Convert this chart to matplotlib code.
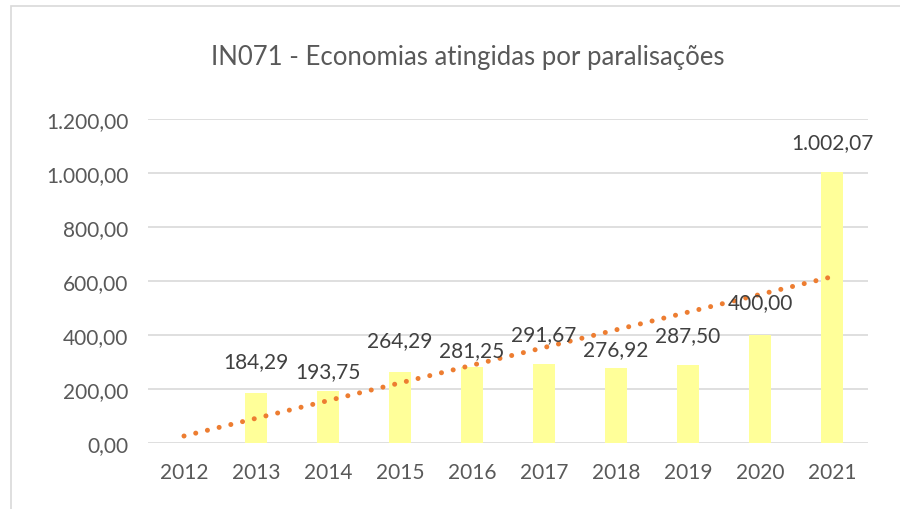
import numpy as np
import matplotlib
matplotlib.use('Agg')
import matplotlib.pyplot as plt
from matplotlib.patches import Rectangle

# dados do gráfico
anos = ['2012', '2013', '2014', '2015', '2016', '2017', '2018', '2019', '2020', '2021']
valores = [np.nan, 184.29, 193.75, 264.29, 281.25, 291.67, 276.92, 287.50, 400.00, 1002.07]
yticks = [0, 200, 400, 600, 800, 1000, 1200]
titulo = 'IN071 - Economias atingidas por paralisações'

# deslocamento vertical dos rótulos (pontos), como no Excel
label_dy = [0, 23, 14, 23, 12, 22, 14, 22, 24, 22]


def fmt_br(v):
    s = f'{v:,.2f}'
    return s.replace(',', 'X').replace('.', ',').replace('X', '.')


plt.rcParams['font.family'] = ['Lato', 'DejaVu Sans']

fig = plt.figure(figsize=(9, 5.1), dpi=100)
fig.patches.append(Rectangle((11 / 900, -0.1), 1.2, 1.1 - 7 / 510, transform=fig.transFigure,
                             fill=False, edgecolor='#D9D9D9', linewidth=1.2))
ax = fig.add_axes([148 / 900, 1 - 444 / 510, 720 / 900, 324 / 510])

x = np.arange(len(anos))
y = np.array(valores, dtype=float)
ax.bar(x, np.nan_to_num(y), width=0.31, color='#FFFF99', zorder=2)

# linha de tendência linear
ok = ~np.isnan(y)
a, b = np.polyfit(x[ok], y[ok], 1)
ax.plot(x, a * x + b, color='#ED7D31', linewidth=3.6, linestyle=(0, (0.01, 2.4)),
        dash_capstyle='round', zorder=3)

for xi, yi, dy in zip(x, y, label_dy):
    if np.isnan(yi):
        continue
    ax.annotate(fmt_br(yi), (xi, yi), xytext=(0, dy), textcoords='offset points',
                ha='center', va='center', fontsize=15, color='#404040', zorder=4)

ax.set_xlim(-0.5, len(anos) - 0.5)
ax.set_ylim(0, 1200)
ax.set_yticks(yticks)
ax.set_yticklabels([fmt_br(v) for v in yticks])
ax.set_xticks(x)
ax.set_xticklabels(anos)
ax.tick_params(axis='both', length=0, labelsize=15, colors='#595959')
ax.tick_params(axis='y', pad=14)
ax.tick_params(axis='x', pad=14)
ax.grid(axis='y', color='#D9D9D9', linewidth=1.2, zorder=0)
for s in ax.spines.values():
    s.set_visible(False)

fig.text(468 / 900, 1 - 58 / 510, titulo, ha='center', va='center', fontsize=18.5, color='#595959')

fig.savefig('out.png', dpi=100)
